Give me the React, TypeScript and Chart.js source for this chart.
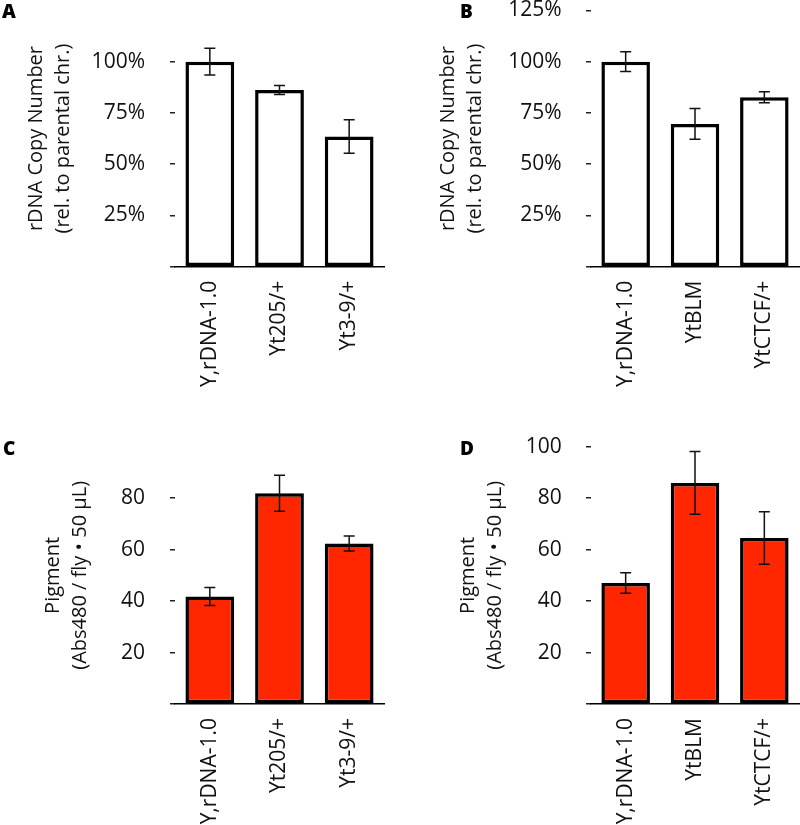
import React, { useEffect, useRef } from "react";
import { Chart, registerables } from "chart.js";

Chart.register(...registerables);

// ---------- data ----------
const strainsAC = ["Y,rDNA-1.0", "Yt205/+", "Yt3-9/+"];
const strainsBD = ["Y,rDNA-1.0", "YtBLM", "YtCTCF/+"];

const copyNumberA = [100, 86.2, 63.5];
const copyNumberAErr = [6.5, 2.2, 8.2];
const copyNumberB = [100, 69.6, 82.6];
const copyNumberBErr = [4.8, 7.5, 2.7];

const pigmentC = [41.8, 81.9, 62.4];
const pigmentCErr = [3.5, 7.0, 2.9];
const pigmentD = [47.0, 85.9, 64.5];
const pigmentDErr = [4.0, 12.2, 10.2];

const copyTitle = ["rDNA Copy Number", "(rel. to parental chr.)"];
const pigmentTitle = ["Pigment", "(Abs480 / fly \u2022 50 \u00B5L)"];

const copyMax = 125;
const copyStep = 25;
const pigmentMax = 100;
const pigmentStep = 20;

// ---------- style ----------
const FONT = "'Open Sans', 'Noto Sans', sans-serif";
const TEXT = "#111";
const RED = "#FF2600";
const FS = 21;
const TITLE_FS = 20;

const errorBarPlugin = {
  id: "errorBars",
  afterDatasetsDraw(chart: any, _args: any, opts: any) {
    const errs: number[] = opts.errors;
    if (!errs) return;
    const meta = chart.getDatasetMeta(0);
    const yScale = chart.scales.y;
    const ctx = chart.ctx;
    const vals = chart.data.datasets[0].data as number[];
    ctx.save();
    ctx.strokeStyle = "#111";
    ctx.lineWidth = 1.5;
    const cap = 5.5;
    meta.data.forEach((bar: any, i: number) => {
      const v = vals[i];
      const e = errs[i];
      const yt = yScale.getPixelForValue(v + e);
      const yb = yScale.getPixelForValue(v - e);
      const x = bar.x;
      ctx.beginPath();
      ctx.moveTo(x, yt);
      ctx.lineTo(x, yb);
      ctx.moveTo(x - cap, yt);
      ctx.lineTo(x + cap, yt);
      ctx.moveTo(x - cap, yb);
      ctx.lineTo(x + cap, yb);
      ctx.stroke();
    });
    ctx.restore();
  },
};

type PanelProps = {
  x: number;
  y: number;
  w: number;
  h: number;
  labels: string[];
  values: number[];
  errors: number[];
  fill: string;
  yMax: number;
  step: number;
  hideVal: number | null;
  percent: boolean;
  title: string[];
  pad: { left: number; top: number; right: number; bottom: number };
  yWidth: number;
  xHeight: number;
  tickPad: number;
};

function Panel(p: PanelProps) {
  const ref = useRef<HTMLCanvasElement>(null);
  useEffect(() => {
    const chart = new Chart(ref.current as HTMLCanvasElement, {
      type: "bar",
      data: {
        labels: p.labels,
        datasets: [
          {
            data: p.values,
            backgroundColor: p.fill,
            borderColor: "#000",
            borderWidth: 3.5,
            borderSkipped: false,
            barPercentage: 0.7,
            categoryPercentage: 1,
          },
        ],
      },
      plugins: [errorBarPlugin],
      options: {
        animation: false,
        responsive: false,
        maintainAspectRatio: false,
        devicePixelRatio: 1,
        layout: { padding: p.pad },
        plugins: {
          legend: { display: false },
          tooltip: { enabled: false },
          title: { display: false },
          errorBars: { errors: p.errors },
        } as any,
        scales: {
          x: {
            afterFit(s: any) {
              s.height = p.xHeight;
              s.paddingLeft = 0;
              s.paddingRight = 0;
              s.paddingTop = 0;
              s.paddingBottom = 0;
            },
            grid: { display: false, drawTicks: false },
            border: { display: true, color: "#000", width: 1.5 },
            ticks: {
              autoSkip: false,
              minRotation: 90,
              maxRotation: 90,
              padding: 14,
              color: TEXT,
              font: { family: FONT, size: FS },
            },
          },
          y: {
            min: 0,
            max: p.yMax,
            afterFit(s: any) {
              s.width = p.yWidth;
              s.paddingLeft = 0;
              s.paddingRight = 0;
              s.paddingTop = 0;
              s.paddingBottom = 0;
            },
            border: { display: false },
            grid: {
              display: true,
              drawOnChartArea: false,
              drawTicks: true,
              tickLength: 5,
              tickWidth: 1.5,
              tickColor: "#222",
              lineWidth: 1.5,
            },
            ticks: {
              stepSize: p.step,
              padding: p.tickPad,
              color: TEXT,
              font: { family: FONT, size: FS },
              callback: (v: any) => {
                if (p.hideVal !== null && v === p.hideVal) return null as any;
                if (v === 0) return "";
                return p.percent ? `${v}%` : `${v}`;
              },
            },
            title: {
              display: true,
              text: p.title,
              color: TEXT,
              padding: 0,
              font: { family: FONT, size: TITLE_FS, lineHeight: 1.375 },
            },
          },
        },
      } as any,
    });
    return () => chart.destroy();
  }, []);
  return (
    <canvas
      ref={ref}
      width={p.w}
      height={p.h}
      style={{ position: "absolute", left: p.x, top: p.y, width: p.w, height: p.h }}
    />
  );
}

const letterStyle = (left: number, top: number): React.CSSProperties => ({
  position: "absolute",
  left,
  top,
  fontFamily: FONT,
  fontWeight: 800,
  fontSize: 19,
  lineHeight: "19px",
  color: "#000",
});

export default function App() {
  return (
    <div
      style={{
        position: "absolute",
        left: 0,
        top: 0,
        width: 800,
        height: 825,
        overflow: "hidden",
        background: "#fff",
      }}
    >
      <Panel
        x={0}
        y={0}
        w={400}
        h={400}
        labels={strainsAC}
        values={copyNumberA}
        errors={copyNumberAErr}
        fill="#fff"
        yMax={copyMax}
        step={copyStep}
        hideVal={125}
        percent={true}
        title={copyTitle}
        pad={{ left: 22.25, top: 10.4, right: 16, bottom: 0 }}
        yWidth={152.75}
        xHeight={133.3}
        tickPad={25}
      />
      <Panel
        x={400}
        y={0}
        w={420}
        h={400}
        labels={strainsBD}
        values={copyNumberB}
        errors={copyNumberBErr}
        fill="#fff"
        yMax={copyMax}
        step={copyStep}
        hideVal={null}
        percent={true}
        title={copyTitle}
        pad={{ left: 34.25, top: 10.4, right: 21, bottom: 0 }}
        yWidth={156.75}
        xHeight={133.3}
        tickPad={24.3}
      />
      <Panel
        x={0}
        y={400}
        w={400}
        h={425}
        labels={strainsAC}
        values={pigmentC}
        errors={pigmentCErr}
        fill={RED}
        yMax={pigmentMax}
        step={pigmentStep}
        hideVal={100}
        percent={false}
        title={pigmentTitle}
        pad={{ left: 39.5, top: 46.7, right: 16, bottom: 0 }}
        yWidth={135.5}
        xHeight={121}
        tickPad={25}
      />
      <Panel
        x={400}
        y={400}
        w={420}
        h={425}
        labels={strainsBD}
        values={pigmentD}
        errors={pigmentDErr}
        fill={RED}
        yMax={pigmentMax}
        step={pigmentStep}
        hideVal={null}
        percent={false}
        title={pigmentTitle}
        pad={{ left: 54.5, top: 46.7, right: 21, bottom: 0 }}
        yWidth={136.5}
        xHeight={121}
        tickPad={24.3}
      />
      <div style={letterStyle(2, 1.8)}>A</div>
      <div style={letterStyle(460, 1.8)}>B</div>
      <div style={letterStyle(3, 438.5)}>C</div>
      <div style={letterStyle(460, 438.5)}>D</div>
    </div>
  );
}
